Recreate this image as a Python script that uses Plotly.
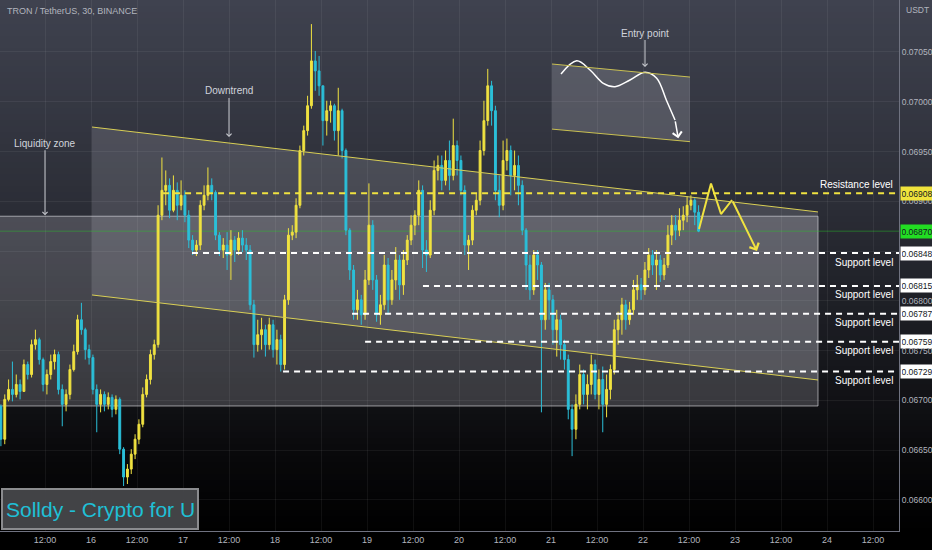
import plotly.graph_objects as go

# ---------------- data (prices in 1e-5 USDT, 1-hour candles from day 15 00:00) ----------------
first_open_1e5 = 6694
close_1e5 = [
    6661, 6701, 6711, 6706, 6716, 6709, 6736, 6726, 6756, 6761,
    6741, 6716, 6726, 6739, 6746, 6711, 6696, 6706, 6731, 6749,
    6781, 6771, 6751, 6743, 6711, 6696, 6706, 6696, 6703, 6691,
    6701, 6651, 6623, 6631, 6646, 6661, 6676, 6706, 6721, 6746,
    6756, 6886, 6911, 6916, 6891, 6911, 6896, 6906, 6886, 6861,
    6851, 6856, 6896, 6906, 6916, 6909, 6866, 6851, 6856, 6846,
    6861, 6851, 6863, 6856, 6851, 6796, 6756, 6766, 6771, 6756,
    6776, 6751, 6761, 6736, 6801, 6866, 6869, 6896, 6951, 6971,
    6996, 7041, 7031, 7016, 6981, 6991, 6996, 6971, 6991, 6951,
    6871, 6831, 6791, 6801, 6786, 6821, 6876, 6821, 6786, 6796,
    6836, 6801, 6821, 6841, 6816, 6841, 6861, 6876, 6886, 6911,
    6851, 6846, 6891, 6931, 6936, 6921, 6941, 6926, 6956, 6941,
    6911, 6856, 6861, 6891, 6901, 6951, 6981, 7016, 6991, 6911,
    6896, 6941, 6951, 6926, 6936, 6916, 6871, 6836, 6811, 6846,
    6836, 6781, 6811, 6801, 6771, 6781, 6756, 6741, 6691, 6671,
    6696, 6726, 6706, 6716, 6736, 6706, 6721, 6696, 6711, 6731,
    6771, 6781, 6796, 6781, 6791, 6811, 6816, 6811, 6831, 6846,
    6836, 6841, 6826, 6836, 6866, 6876, 6871, 6881, 6886, 6896,
    6901, 6889, 6870,
]
high_1e5 = [
    6696, 6706, 6721, 6739, 6726, 6721, 6741, 6739, 6761, 6771,
    6763, 6743, 6731, 6746, 6751, 6749, 6716, 6711, 6736, 6756,
    6786, 6798, 6773, 6756, 6746, 6716, 6711, 6709, 6708, 6706,
    6705, 6703, 6653, 6636, 6651, 6666, 6681, 6713, 6726, 6751,
    6761, 6896, 6944, 6931, 6923, 6926, 6919, 6921, 6911, 6891,
    6866, 6861, 6901, 6916, 6934, 6923, 6911, 6869, 6863, 6869,
    6871, 6865, 6869, 6871, 6863, 6856, 6801, 6781, 6783, 6776,
    6783, 6781, 6771, 6766, 6806, 6873, 6876, 6903, 6956, 6976,
    7006, 7078, 7051, 7046, 7016, 7001, 7001, 6998, 7014, 6993,
    6953, 6873, 6836, 6811, 6806, 6831, 6918, 6881, 6826, 6806,
    6846, 6843, 6831, 6854, 6846, 6851, 6866, 6886, 6891, 6921,
    6916, 6861, 6901, 6941, 6946, 6946, 6951, 6961, 6983, 6961,
    6946, 6916, 6866, 6896, 6908, 6961, 7001, 7033, 7021, 6996,
    6926, 6961, 6963, 6956, 6951, 6946, 6921, 6873, 6846, 6851,
    6851, 6839, 6818, 6818, 6806, 6791, 6786, 6761, 6746, 6696,
    6706, 6736, 6731, 6726, 6746, 6741, 6731, 6734, 6726, 6736,
    6781, 6789, 6803, 6801, 6799, 6821, 6826, 6823, 6839, 6853,
    6851, 6851, 6846, 6843, 6876, 6886, 6886, 6893, 6895, 6905,
    6906, 6903, 6896,
]
low_1e5 = [
    6654, 6656, 6699, 6699, 6703, 6701, 6709, 6721, 6723, 6751,
    6736, 6709, 6706, 6721, 6731, 6706, 6674, 6689, 6701, 6729,
    6746, 6766, 6741, 6736, 6706, 6668, 6688, 6689, 6691, 6683,
    6686, 6646, 6614, 6616, 6626, 6641, 6656, 6673, 6703, 6716,
    6741, 6753, 6881, 6896, 6883, 6889, 6881, 6891, 6879, 6853,
    6846, 6845, 6851, 6891, 6901, 6901, 6861, 6845, 6843, 6831,
    6821, 6839, 6846, 6849, 6841, 6791, 6743, 6749, 6751, 6744,
    6751, 6743, 6736, 6729, 6731, 6796, 6861, 6863, 6893, 6946,
    6966, 6993, 7011, 7006, 6956, 6966, 6979, 6961, 6946, 6943,
    6866, 6821, 6781, 6781, 6776, 6781, 6816, 6811, 6779, 6776,
    6791, 6786, 6796, 6811, 6801, 6806, 6836, 6856, 6866, 6876,
    6833, 6829, 6843, 6886, 6921, 6911, 6916, 6911, 6921, 6926,
    6906, 6846, 6831, 6856, 6886, 6896, 6946, 6976, 6976, 6901,
    6884, 6891, 6931, 6906, 6911, 6896, 6866, 6811, 6801, 6806,
    6821, 6688, 6771, 6781, 6756, 6744, 6741, 6731, 6681, 6644,
    6661, 6691, 6696, 6691, 6706, 6701, 6691, 6668, 6683, 6701,
    6726, 6756, 6766, 6771, 6776, 6786, 6801, 6801, 6806, 6823,
    6826, 6811, 6819, 6821, 6833, 6856, 6861, 6865, 6871, 6879,
    6891, 6876, 6869,
]
open_1e5 = [first_open_1e5] + close_1e5[:-1]
candle_hour = [i + 0.5 for i in range(len(close_1e5))]

tick_hours = [12, 24, 36, 48, 60, 72, 84, 96, 108, 120, 132, 144, 156, 168, 180, 192, 204, 216, 228]
tick_text = ["12:00", "16", "12:00", "17", "12:00", "18", "12:00", "19", "12:00", "20",
             "12:00", "21", "12:00", "22", "12:00", "23", "12:00", "24", "12:00"]
price_ticks = [0.06600, 0.06650, 0.06700, 0.06750, 0.06800, 0.06850, 0.06900, 0.06950, 0.07000, 0.07050]
price_tick_text = ["0.06600", "0.06650", "0.06700", "0.06750", "0.06800", "", "0.06900", "0.06950", "0.07000", "0.07050"]

resistance_price = 0.06908
current_price = 0.06870
support_prices = [0.06848, 0.06815, 0.06787, 0.06759, 0.06729]
support_start_hour = [50.35, 110.6, 92.1, 95.5, 74.1]
resistance_start_hour = 42.8

# ---------------- drawing geometry (hours, price) ----------------
X_RANGE = [0.261, 234.78]
Y_RANGE = [0.065688, 0.071022]
ch_h0, ch_h1 = 24.26, 213.65
ch_top = (0.069746, 0.068893)
ch_bot = (0.068059, 0.067205)
zone_h1, zone_lo, zone_hi = 213.65, 0.066944, 0.06885
eb_h0, eb_h1 = 144.26, 180.26
eb_top = (0.070379, 0.070248)
eb_bot = (0.069725, 0.069599)
curve_h = [146.61, 150.71, 154.18, 157.65, 160.70, 164.61, 168.56, 171.57, 174.08, 176.35]
curve_p = [0.070279, 0.070412, 0.070319, 0.070185, 0.070151, 0.070218, 0.070296, 0.070236, 0.070018, 0.069817]
curve_tip = (177.20, 0.069633)
zig_h = [182.61, 185.74, 188.35, 191.22]
zig_p = [0.068722, 0.069179, 0.068872, 0.069013]
zig_tip = (197.74, 0.068501)

YEL = "#F0E240"
CYA = "#2BBFD8"
TXT = "#d1d4dc"
AX = "#b2b5be"
FONT = "Liberation Sans, Arial, sans-serif"

W, H = 932, 550
ML, MR, MT, MB = 0, 33, 0, 19
PW, PH = W - ML - MR, H - MT - MB

scale = 1e-5
fig = go.Figure()
fig.add_trace(go.Candlestick(
    x=candle_hour,
    open=[v * scale for v in open_1e5],
    high=[v * scale for v in high_1e5],
    low=[v * scale for v in low_1e5],
    close=[v * scale for v in close_1e5],
    increasing=dict(line=dict(color=YEL, width=1), fillcolor=YEL),
    decreasing=dict(line=dict(color=CYA, width=1), fillcolor=CYA),
    whiskerwidth=0, showlegend=False, hoverinfo="skip",
))

# white curve in entry box
fig.add_trace(go.Scatter(x=curve_h, y=curve_p, mode="lines",
                         line=dict(color="white", width=1.5, shape="spline"),
                         showlegend=False, hoverinfo="skip"))
# yellow projection zigzag
fig.add_trace(go.Scatter(x=zig_h, y=zig_p, mode="lines",
                         line=dict(color=YEL, width=2),
                         showlegend=False, hoverinfo="skip"))

shapes = []
# background gradient
stops = [(0, (63, 66, 79)), (200, (44, 46, 55)), (350, (24, 25, 30)), (460, (8, 8, 10)), (531, (0, 0, 0))]
def col_at(py):
    for (y0, c0), (y1, c1) in zip(stops[:-1], stops[1:]):
        if y0 <= py <= y1:
            t = (py - y0) / (y1 - y0)
            return "rgb(%d,%d,%d)" % tuple(round(a + (b - a) * t) for a, b in zip(c0, c1))
    return "rgb(0,0,0)"
step = 6
for py in range(0, PH, step):
    shapes.append(dict(type="rect", xref="paper", yref="paper", x0=0, x1=W / PW,
                       y0=max(0, (PH - py - step) / PH), y1=(PH - py) / PH,
                       fillcolor=col_at(py + step / 2), line=dict(width=0), layer="below"))

# liquidity zone
shapes.append(dict(type="rect", xref="x", yref="y", x0=-10, x1=zone_h1, y0=zone_lo, y1=zone_hi,
                   fillcolor="rgba(200,200,208,0.22)", line=dict(color="rgba(215,215,220,0.65)", width=1),
                   layer="below"))
# downtrend channel
shapes.append(dict(type="path", xref="x", yref="y", layer="below",
                   path=f"M {ch_h0},{ch_top[0]} L {ch_h1},{ch_top[1]} L {ch_h1},{ch_bot[1]} L {ch_h0},{ch_bot[0]} Z",
                   fillcolor="rgba(200,200,208,0.18)", line=dict(width=0)))
for a, b in (ch_top, ch_bot):
    shapes.append(dict(type="line", xref="x", yref="y", x0=ch_h0, x1=ch_h1, y0=a, y1=b,
                       line=dict(color="#d9cf55", width=1), layer="above"))
# entry box
shapes.append(dict(type="path", xref="x", yref="y", layer="below",
                   path=f"M {eb_h0},{eb_top[0]} L {eb_h1},{eb_top[1]} L {eb_h1},{eb_bot[1]} L {eb_h0},{eb_bot[0]} Z",
                   fillcolor="rgba(200,200,208,0.22)", line=dict(width=0)))
for a, b in (eb_top, eb_bot):
    shapes.append(dict(type="line", xref="x", yref="y", x0=eb_h0, x1=eb_h1, y0=a, y1=b,
                       line=dict(color="#c9c052", width=1), layer="above"))
# current price line
shapes.append(dict(type="line", xref="x", yref="y", x0=-10, x1=300, y0=current_price, y1=current_price,
                   line=dict(color="rgba(40,200,40,0.45)", width=1), layer="below"))
# resistance / supports
shapes.append(dict(type="line", xref="x", yref="y", x0=resistance_start_hour, x1=300,
                   y0=resistance_price, y1=resistance_price,
                   line=dict(color=YEL, width=2, dash="6px,5px"), layer="above"))
for p, h0 in zip(support_prices, support_start_hour):
    shapes.append(dict(type="line", xref="x", yref="y", x0=h0, x1=300, y0=p, y1=p,
                       line=dict(color="white", width=2, dash="6px,5px"), layer="above"))
# watermark box
shapes.append(dict(type="rect", xref="paper", yref="paper", x0=2 / PW, x1=198 / PW,
                   y0=2 / PH, y1=42 / PH, fillcolor="rgba(70,71,74,0.95)",
                   line=dict(color="#8a8b8e", width=2), layer="above"))

ann = []
def label(text, x, y, ay):
    ann.append(dict(text=text, x=x, y=y, xref="x", yref="y", ax=0, ay=ay,
                    showarrow=True, arrowhead=4, arrowsize=1, arrowwidth=1, arrowcolor="#c8cad0",
                    font=dict(family=FONT, size=10, color=TXT), standoff=0))
label("Liquidity zone", 12.0, 0.068860, -72)
label("Downtrend", 60.0, 0.069646, -46)
label("Entry point", 168.52, 0.070349, -34)

# arrowheads for curve and zigzag
ann.append(dict(x=curve_tip[0], y=curve_tip[1], ax=curve_h[-1], ay=curve_p[-1], xref="x", yref="y",
                axref="x", ayref="y", text="", showarrow=True, arrowhead=4, arrowsize=1.2,
                arrowwidth=1.5, arrowcolor="white"))
ann.append(dict(x=zig_tip[0], y=zig_tip[1], ax=zig_h[-1], ay=zig_p[-1], xref="x", yref="y",
                axref="x", ayref="y", text="", showarrow=True, arrowhead=4, arrowsize=1,
                arrowwidth=2, arrowcolor=YEL))

# level texts
ann.append(dict(text="Resistance level", x=895 / PW, y=0.069164, xref="paper", yref="y",
                xanchor="right", yanchor="middle", showarrow=False,
                font=dict(family=FONT, size=10, color="white")))
for p in [0.068390, 0.068059, 0.067778, 0.067497, 0.067196]:
    ann.append(dict(text="Support level", x=895 / PW, y=p, xref="paper", yref="y",
                    xanchor="right", yanchor="middle", showarrow=False,
                    font=dict(family=FONT, size=10, color="white")))

# price boxes on axis
boxes = [(resistance_price, "#F0E33C")] + [(current_price, "#22dd22")] + [(p, "#ffffff") for p in support_prices]
for p, bg in boxes:
    ann.append(dict(text=f"{p:.5f}", x=(PW + 1) / PW, y=p, xref="paper", yref="y",
                    xanchor="left", yanchor="middle", showarrow=False, bgcolor=bg,
                    width=30, height=11, borderpad=1, align="center",
                    font=dict(family=FONT, size=8.5, color="#131722")))

# header & unit
ann.append(dict(text="TRON / TetherUS, 30, BINANCE", x=5 / PW, y=(PH - 11) / PH, xref="paper", yref="paper",
                xanchor="left", yanchor="middle", showarrow=False,
                font=dict(family=FONT, size=9, color=AX)))
ann.append(dict(text="USDT", x=(PW + 5) / PW, y=(PH - 10) / PH, xref="paper", yref="paper",
                xanchor="left", yanchor="middle", showarrow=False,
                font=dict(family=FONT, size=8.5, color=AX)))
# watermark text
ann.append(dict(text="Solldy - Crypto for U", x=100 / PW, y=22 / PH, xref="paper", yref="paper",
                xanchor="center", yanchor="middle", showarrow=False,
                font=dict(family=FONT, size=21, color="#1fc0d6")))

fig.update_layout(
    width=W, height=H, margin=dict(l=ML, r=MR, t=MT, b=MB),
    paper_bgcolor="black", plot_bgcolor="rgba(0,0,0,0)",
    shapes=shapes, annotations=ann, hovermode=False, showlegend=False,
    xaxis=dict(range=X_RANGE, tickmode="array", tickvals=tick_hours, ticktext=tick_text,
               showgrid=True, gridcolor="rgba(255,255,255,0.06)", gridwidth=1, zeroline=False,
               showline=True, linecolor="#6f7280", linewidth=1, ticks="",
               tickfont=dict(family=FONT, size=9, color=AX), rangeslider=dict(visible=False),
               fixedrange=True),
    yaxis=dict(range=Y_RANGE, side="right", tickmode="array", tickvals=price_ticks,
               ticktext=price_tick_text,
               showgrid=True, gridcolor="rgba(255,255,255,0.06)", gridwidth=1, zeroline=False,
               showline=True, linecolor="#6f7280", linewidth=1, ticks="",
               tickfont=dict(family=FONT, size=8.5, color=AX), fixedrange=True),
)

fig.write_html("out.html", config={"displayModeBar": False},
               post_script="document.body.style.margin='0';document.body.style.overflow='hidden';")
